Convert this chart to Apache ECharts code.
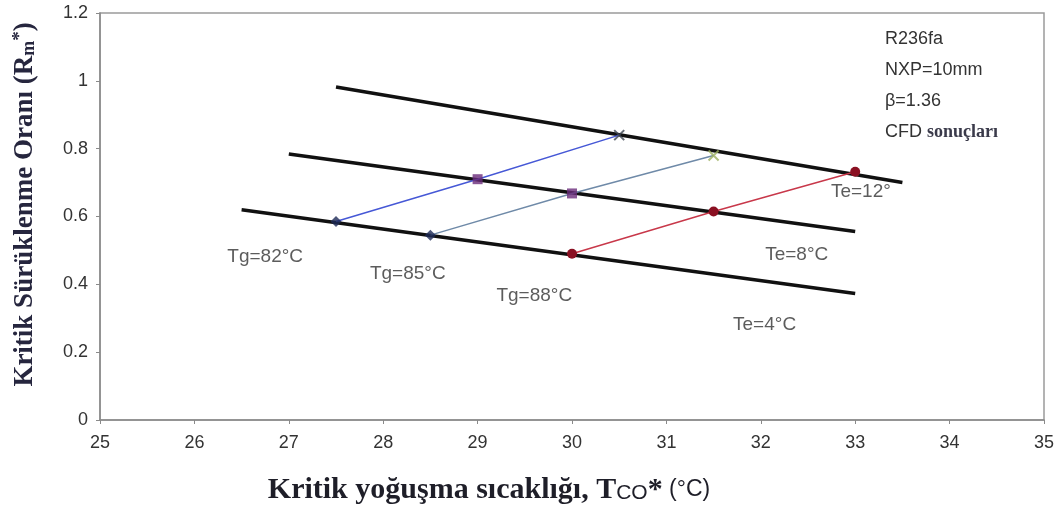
<!DOCTYPE html>
<html>
<head>
<meta charset="utf-8">
<script src="https://cdn.jsdelivr.net/npm/echarts@6/dist/echarts.min.js"></script>
<style>
  html, body { margin: 0; padding: 0; background: #fff; }
  #chart { width: 1062px; height: 515px; }
</style>
</head>
<body>
<div id="chart"></div>
<script>
// Te (evaporator temperature) fit lines
const te4X = [26.5, 33];
const te4Y = [0.62, 0.373];
const te8X = [27, 33];
const te8Y = [0.784, 0.556];
const te12X = [27.5, 33.5];
const te12Y = [0.982, 0.70];

// Tg (generator temperature) lines
const tg82X = [27.5, 29, 30.5];
const tg82Y = [0.585, 0.71, 0.84];
const tg85X = [28.5, 30, 31.5];
const tg85Y = [0.545, 0.668, 0.78];
const tg88X = [30, 31.5, 33];
const tg88Y = [0.49, 0.615, 0.732];

// text annotations placed in data coordinates
const labelText = ["Tg=82°C", "Tg=85°C", "Tg=88°C", "Te=12°", "Te=8°C", "Te=4°C"];
const labelX = [26.75, 28.26, 29.6, 33.06, 32.38, 32.04];
const labelY = [0.48, 0.43, 0.367, 0.672, 0.488, 0.281];

const infoLines = ["R236fa", "NXP=10mm", "β=1.36"];

const zip = (xs, ys) => xs.map((x, i) => [x, ys[i]]);

const chart = echarts.init(document.getElementById("chart"));

const blackLine = (name, xs, ys) => ({
    name: name,
    type: 'line',
    data: zip(xs, ys),
    symbol: 'none',
    lineStyle: { color: '#111', width: 3.5 },
    z: 2
});

const option = {
    animation: false,
    backgroundColor: '#fff',
    grid: {
        left: 100, right: 18, top: 13, bottom: 95,
        outerBoundsMode: 'none',
        show: true, borderColor: '#9a9a9a', borderWidth: 1.5
    },
    xAxis: {
        type: 'value',
        min: 25, max: 35, interval: 1,
        name: '{a|Kritik yoğuşma sıcaklığı, T}{s|CO}{a|*}{b| (°C)}',
        nameLocation: 'middle',
        nameGap: 55,
        nameTextStyle: {
            padding: [0, 166, 0, 0],
            rich: {
                a: { fontFamily: 'Liberation Serif', fontSize: 30, fontWeight: 'bold', color: '#1e1e28' },
                s: { fontFamily: 'Liberation Sans', fontSize: 21, color: '#1e1e28', padding: [6, 0, 0, 0] },
                b: { fontFamily: 'Liberation Sans', fontSize: 23, color: '#1e1e28' }
            }
        },
        axisLine: { lineStyle: { color: '#8a8a8a', width: 1.5 } },
        axisTick: { length: 4, lineStyle: { color: '#8a8a8a' } },
        axisLabel: { fontFamily: 'Liberation Sans', fontSize: 18, color: '#333', margin: 14 },
        splitLine: { show: false }
    },
    yAxis: {
        type: 'value',
        min: 0, max: 1.2, interval: 0.2,
        name: '{a|Kritik Sürüklenme Oranı (R}{s|m}{p|*}{a|)}',
        nameLocation: 'middle',
        nameGap: 60,
        nameRotate: 90,
        nameTextStyle: {
            padding: [0, 0, 0, 24],
            rich: {
                a: { fontFamily: 'Liberation Serif', fontSize: 27, fontWeight: 'bold', color: '#26263e' },
                s: { fontFamily: 'Liberation Serif', fontSize: 18, fontWeight: 'bold', color: '#26263e', padding: [7, 0, 0, 0] },
                p: { fontFamily: 'Liberation Serif', fontSize: 19, fontWeight: 'bold', color: '#26263e', padding: [0, 0, 10, 0] }
            }
        },
        axisLine: { show: true, lineStyle: { color: '#8a8a8a', width: 1.5 } },
        axisTick: { show: true, length: 4, lineStyle: { color: '#8a8a8a' } },
        axisLabel: { fontFamily: 'Liberation Sans', fontSize: 18, color: '#333', margin: 12 },
        splitLine: { show: false }
    },
    graphic: [
        {
            type: 'text',
            left: 885, top: 24,
            style: {
                text: infoLines.join('\n') + '\n{c|CFD} {s|sonuçları}',
                fontFamily: 'Liberation Sans',
                fontSize: 18,
                lineHeight: 31,
                fill: '#333',
                rich: {
                    c: { fontFamily: 'Liberation Sans', fontSize: 18, fill: '#333' },
                    s: { fontFamily: 'Liberation Serif', fontSize: 18, fontWeight: 'bold', fill: '#3a3a4a' }
                }
            }
        }
    ],
    series: [
        blackLine('Te=4', te4X, te4Y),
        blackLine('Te=8', te8X, te8Y),
        blackLine('Te=12', te12X, te12Y),
        {
            name: 'Tg=82',
            type: 'line',
            data: zip(tg82X, tg82Y),
            symbol: 'none',
            lineStyle: { color: '#4658d6', width: 1.5 },
            z: 3
        },
        {
            name: 'Tg=85',
            type: 'line',
            data: zip(tg85X, tg85Y),
            symbol: 'none',
            lineStyle: { color: '#6f8aa8', width: 1.5 },
            z: 3
        },
        {
            name: 'Tg=88',
            type: 'line',
            data: zip(tg88X, tg88Y),
            symbol: 'circle',
            symbolSize: 10,
            itemStyle: { color: '#8a1022' },
            lineStyle: { color: '#c8384a', width: 1.5 },
            z: 4
        },
        {
            // Te=4 markers
            type: 'scatter',
            data: [[tg82X[0], tg82Y[0]], [tg85X[0], tg85Y[0]]],
            symbol: 'diamond',
            symbolSize: 11,
            itemStyle: { color: '#1e2a58' },
            z: 5
        },
        {
            // Te=8 markers
            type: 'scatter',
            data: [[tg82X[1], tg82Y[1]], [tg85X[1], tg85Y[1]]],
            symbol: 'rect',
            symbolSize: 10,
            itemStyle: { color: '#6a2c7a' },
            z: 5
        },
        {
            // Te=12 markers
            type: 'scatter',
            data: [
                { value: [tg82X[2], tg82Y[2]], itemStyle: { borderColor: '#3e4652' } },
                { value: [tg85X[2], tg85Y[2]], itemStyle: { borderColor: '#9cb060' } }
            ],
            symbol: 'path://M0,0L10,10M10,0L0,10',
            symbolSize: 10,
            itemStyle: { color: 'none', borderWidth: 2 },
            z: 5
        },
        {
            type: 'scatter',
            data: labelX.map((x, i) => [x, labelY[i], labelText[i]]),
            symbolSize: 0,
            silent: true,
            label: {
                show: true,
                position: 'inside',
                formatter: p => p.value[2],
                fontFamily: 'Liberation Sans',
                fontSize: 19,
                color: '#333'
            },
            z: 6
        }
    ]
};

chart.setOption(option);
</script>
</body>
</html>
